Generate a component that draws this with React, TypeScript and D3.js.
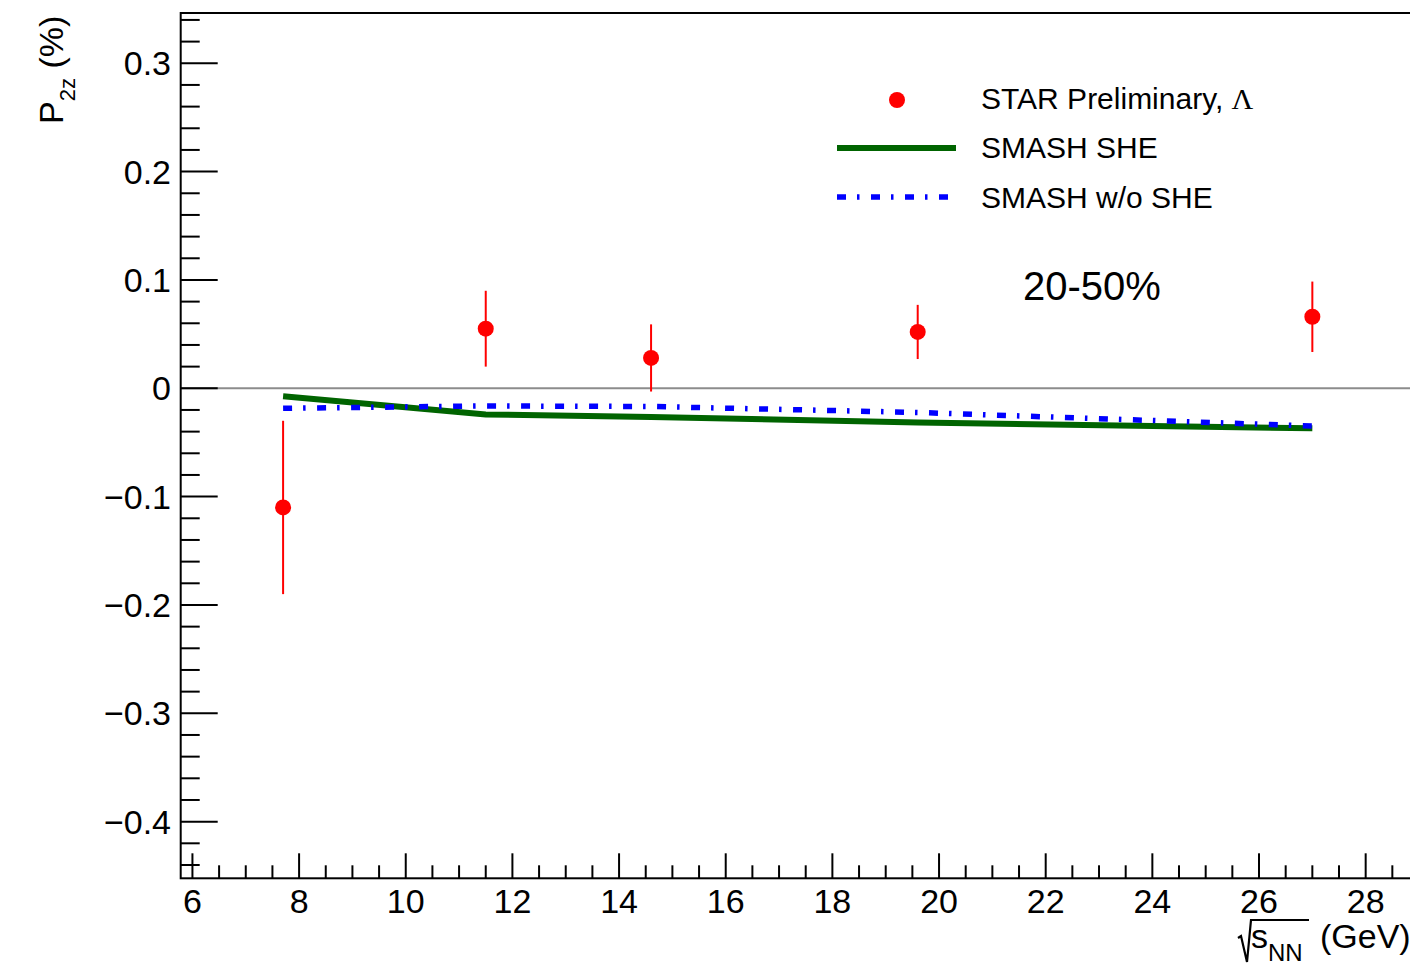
import React from "react";
import * as d3 from "d3";

const energies = [7.7, 11.5, 14.6, 19.6, 27];
const starValues = [-0.11, 0.055, 0.028, 0.052, 0.066];
const starErrors = [0.08, 0.035, 0.031, 0.025, 0.0325];
const smashShe = [-0.0074, -0.0242, -0.0265, -0.0316, -0.0369];
const smashNoShe = [-0.0185, -0.0163, -0.0168, -0.0223, -0.0348];
const xTicks = [6, 8, 10, 12, 14, 16, 18, 20, 22, 24, 26, 28];
const yTicks = [-0.4, -0.3, -0.2, -0.1, 0, 0.1, 0.2, 0.3];
const legendLabels = ["STAR Preliminary, ", "SMASH SHE", "SMASH w/o SHE"];
const centralityLabel = "20-50%";

const W = 1410;
const H = 968;
const FONT = "'Liberation Sans', Arial, Helvetica, sans-serif";

export default function App() {
  const left = 180.7, right = 1451, top = 13, bottom = 878.3;
  const x = d3.scaleLinear().domain([5.78, 29.6]).range([left, right]);
  const y = d3.scaleLinear().domain([-0.4523, 0.3464]).range([bottom, top]);

  const minorX = d3.range(6, 29.6, 0.5).filter((v) => !xTicks.includes(v));
  const minorY = d3
    .range(-44, 35, 2)
    .map((v) => v / 100)
    .filter((v) => !yTicks.some((t) => Math.abs(t - v) < 1e-6));

  const line = d3
    .line<number>()
    .x((_, i) => x(energies[i]))
    .y((d) => y(d));

  return (
    <svg
      width={W}
      height={H}
      style={{ position: "absolute", left: 0, top: 0, background: "#fff" }}
      fontFamily={FONT}
    >
      <rect x={0} y={0} width={W} height={H} fill="#fff" />
      {/* zero line */}
      <line x1={left} x2={right} y1={y(0)} y2={y(0)} stroke="#8c8c8c" strokeWidth={2} />

      {/* models */}
      <path d={line(smashShe) || ""} fill="none" stroke="#006400" strokeWidth={6} />
      <path
        d={line(smashNoShe) || ""}
        fill="none"
        stroke="#0000ff"
        strokeWidth={5.5}
        strokeDasharray="9 11 2.5 11.5"
      />

      {/* data */}
      {energies.map((e, i) => (
        <g key={i}>
          <line
            x1={x(e)}
            x2={x(e)}
            y1={y(starValues[i] + starErrors[i])}
            y2={y(starValues[i] - starErrors[i])}
            stroke="#ff0000"
            strokeWidth={2}
          />
          <circle cx={x(e)} cy={y(starValues[i])} r={8} fill="#ff0000" />
        </g>
      ))}

      {/* frame */}
      <rect
        x={left}
        y={top}
        width={right - left}
        height={bottom - top}
        fill="none"
        stroke="#000"
        strokeWidth={2}
      />

      {/* x ticks */}
      {xTicks.map((t) => (
        <g key={"xt" + t}>
          <line x1={x(t)} x2={x(t)} y1={bottom} y2={bottom - 25} stroke="#000" strokeWidth={2} />
          <text x={x(t)} y={913} textAnchor="middle" fontSize={34}>
            {t}
          </text>
        </g>
      ))}
      {minorX.map((t) => (
        <line key={"xm" + t} x1={x(t)} x2={x(t)} y1={bottom} y2={bottom - 13} stroke="#000" strokeWidth={2} />
      ))}

      {/* y ticks */}
      {yTicks.map((t) => (
        <g key={"yt" + t}>
          <line x1={left} x2={left + 37} y1={y(t)} y2={y(t)} stroke="#000" strokeWidth={2} />
          <text x={171} y={y(t) + 12} textAnchor="end" fontSize={34}>
            {t === 0 ? "0" : (t < 0 ? "\u2212" : "") + Math.abs(t).toFixed(1)}
          </text>
        </g>
      ))}
      {minorY.map((t) => (
        <line key={"ym" + t} x1={left} x2={left + 19} y1={y(t)} y2={y(t)} stroke="#000" strokeWidth={2} />
      ))}

      {/* y title */}
      <text transform="translate(63,124) rotate(-90)" fontSize={34}>
        <tspan>P</tspan>
        <tspan fontSize={22} dy={12}>2z</tspan>
        <tspan dy={-12}> (%)</tspan>
      </text>

      {/* x title */}
      <path
        d="M1238,938 L1241,936 L1247,962 L1251,920 L1309,920"
        fill="none"
        stroke="#000"
        strokeWidth={2.2}
      />
      <text x={1251} y={948} fontSize={34}>
        <tspan>s</tspan>
        <tspan fontSize={24} dy={13}>NN</tspan>
        <tspan x={1320} y={948}>(GeV)</tspan>
      </text>

      {/* legend */}
      <circle cx={897} cy={100} r={8} fill="#ff0000" />
      <line x1={837} x2={956} y1={148} y2={148} stroke="#006400" strokeWidth={6} />
      <line
        x1={837}
        x2={948}
        y1={197}
        y2={197}
        stroke="#0000ff"
        strokeWidth={5.5}
        strokeDasharray="9 11 2.5 11.5"
      />
      <text x={981} y={109} fontSize={30}>
        {legendLabels[0]}
        <tspan fontFamily="'Liberation Serif', 'Times New Roman', serif">Λ</tspan>
      </text>
      <text x={981} y={158} fontSize={30}>
        {legendLabels[1]}
      </text>
      <text x={981} y={208} fontSize={30}>
        {legendLabels[2]}
      </text>

      <text x={1023} y={300} fontSize={40}>
        {centralityLabel}
      </text>
    </svg>
  );
}
